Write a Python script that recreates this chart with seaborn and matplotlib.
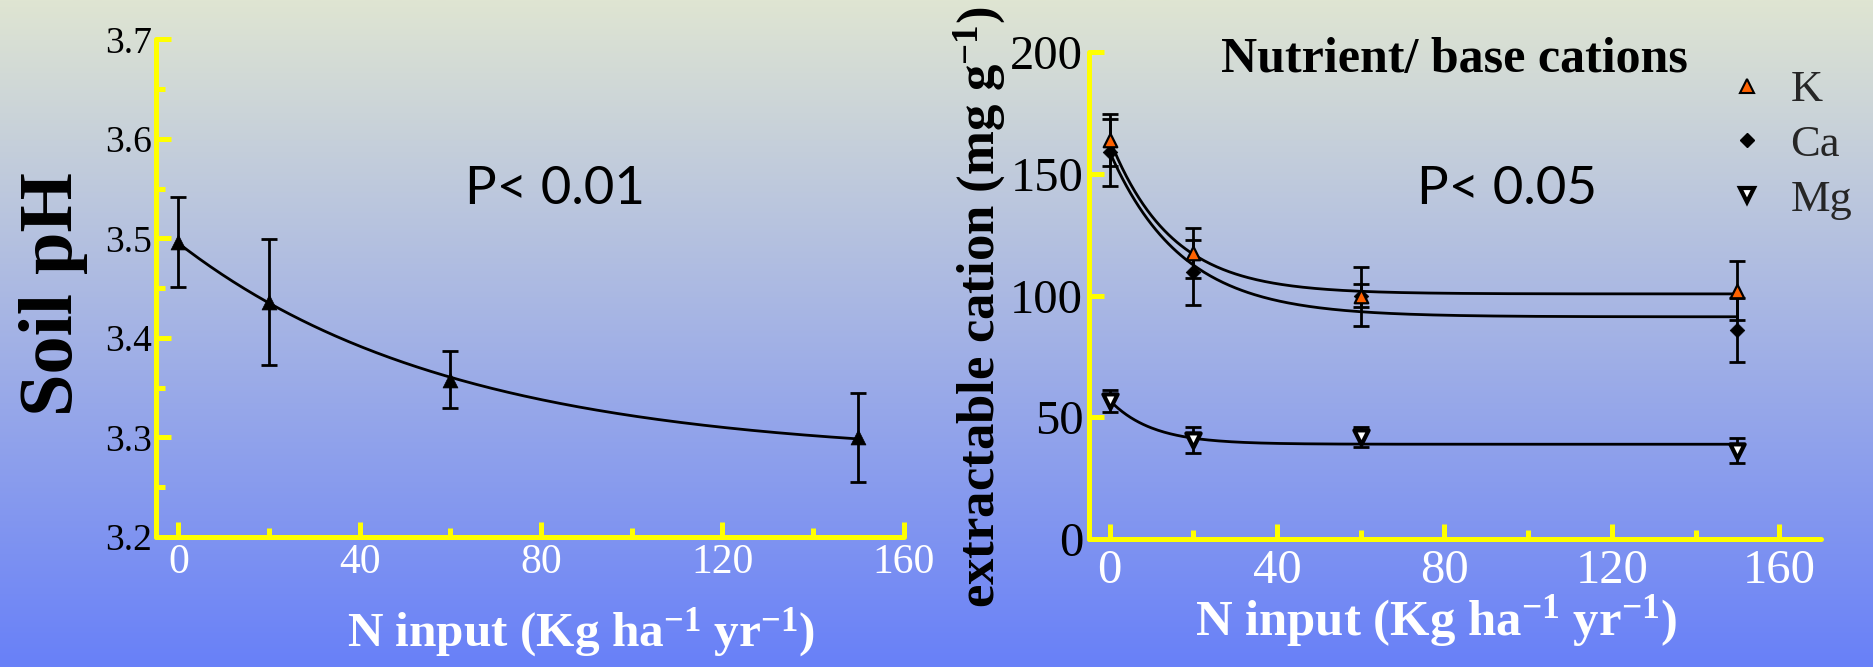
import numpy as np
import pandas as pd
import matplotlib
matplotlib.use("Agg")
import matplotlib.pyplot as plt
import seaborn as sns
from matplotlib.lines import Line2D
from matplotlib.ticker import MultipleLocator

# ---------------- data ----------------
n_input = [0, 20, 60, 150]

ph_mean = [3.496, 3.436, 3.358, 3.300]
ph_err = [0.045, 0.063, 0.029, 0.045]

k_mean = [164.0, 117.5, 99.7, 102.0]
k_err = [10.7, 10.2, 12.0, 12.2]
ca_mean = [158.8, 109.5, 100.0, 86.0]
ca_err = [13.8, 13.3, 4.8, 13.1]
mg_mean = [56.9, 40.8, 42.1, 36.3]
mg_err = [4.5, 5.2, 4.1, 5.1]

# exponential-decay fits  y = a + b * exp(-k x)  (parameters)
fit_ph = (3.28, 0.215, 0.0164)
fit_k = (100.7, 63.3, 0.068)
fit_ca = (91.3, 67.7, 0.058)
fit_mg = (39.0, 18.0, 0.099)

legend_labels = ["K", "Ca", "Mg"]
x_ticks = [0, 40, 80, 120, 160]
ph_ticks = [3.2, 3.3, 3.4, 3.5, 3.6, 3.7]
cat_ticks = [0, 50, 100, 150, 200]

# ---------------- style ----------------
sns.set_style("ticks")
plt.rcParams["font.family"] = ["Liberation Serif", "DejaVu Serif"]
plt.rcParams["mathtext.fontset"] = "custom"
plt.rcParams["mathtext.rm"] = "Liberation Serif:bold"
plt.rcParams["mathtext.it"] = "Liberation Serif:bold"
plt.rcParams["mathtext.bf"] = "Liberation Serif:bold"

YEL = "#ffff00"
ORANGE = "#ff6200"
W, H = 1873, 667

fig = plt.figure(figsize=(W / 100, H / 100), dpi=100)

# background gradient
bg = fig.add_axes([0, 0, 1, 1], zorder=-10)
top = np.array([223, 229, 210]) / 255
bot = np.array([104, 128, 248]) / 255
t = np.linspace(0, 1, 400)[:, None]
grad = (top[None, :] * (1 - t) + bot[None, :] * t)[:, None, :]
bg.imshow(grad, aspect="auto", extent=[0, 1, 0, 1])
bg.axis("off")


def style_axes(ax, ylab_size, xlab_size, ypad, xpad):
    ax.set_facecolor("none")
    for s in ["top", "right"]:
        ax.spines[s].set_visible(False)
    for s in ["left", "bottom"]:
        ax.spines[s].set_color(YEL)
        ax.spines[s].set_linewidth(3.6)
        ax.spines[s].set_capstyle("round")
    ax.tick_params(which="major", direction="in", color=YEL, width=3.6, length=11)
    ax.tick_params(which="minor", direction="in", color=YEL, width=3.6, length=6.5)
    ax.tick_params(axis="y", labelsize=ylab_size, labelcolor="black", pad=ypad)
    ax.tick_params(axis="x", labelsize=xlab_size, labelcolor="white", pad=xpad)
    ax.set_xlabel("")
    ax.set_ylabel("")


def fit_curve(p, x):
    a, b, k = p
    return a + b * np.exp(-k * x)


xx = np.linspace(0, 150, 300)

# ---------------- left panel ----------------
ax1 = fig.add_axes([0.0832, 0.1952, 0.3992, 0.7459])
sns.lineplot(x=xx, y=fit_curve(fit_ph, xx), ax=ax1, color="black", linewidth=2.0)
ax1.errorbar(n_input, ph_mean, yerr=ph_err, fmt="none", ecolor="black",
             elinewidth=2.0, capsize=6, capthick=2.0, zorder=3)
sns.scatterplot(x=n_input, y=ph_mean, ax=ax1, marker="^", s=115, color="black",
                edgecolor="black", linewidth=0.5, zorder=4)
ax1.set_xlim(-5, 160)
ax1.set_ylim(3.2, 3.7)
ax1.set_xticks(x_ticks)
ax1.xaxis.set_minor_locator(MultipleLocator(20))
ax1.set_yticks(ph_ticks)
ax1.set_yticklabels([f"{v:.1f}" for v in ph_ticks])
ax1.yaxis.set_minor_locator(MultipleLocator(0.05))
style_axes(ax1, 27, 30, 3, 5)

# ---------------- right panel ----------------
ax2 = fig.add_axes([0.5813, 0.1915, 0.391, 0.7306])
for p in (fit_k, fit_ca, fit_mg):
    sns.lineplot(x=xx, y=fit_curve(p, xx), ax=ax2, color="black", linewidth=2.0)
for m, e in ((k_mean, k_err), (ca_mean, ca_err), (mg_mean, mg_err)):
    ax2.errorbar(n_input, m, yerr=e, fmt="none", ecolor="black",
                 elinewidth=2.0, capsize=6, capthick=2.0, zorder=3)
sns.scatterplot(x=n_input, y=ca_mean, ax=ax2, marker="D", s=55, color="black",
                edgecolor="black", linewidth=0.5, zorder=4)
sns.scatterplot(x=n_input, y=k_mean, ax=ax2, marker="^", s=95, color=ORANGE,
                edgecolor="black", linewidth=1.6, zorder=5)
sns.scatterplot(x=n_input, y=mg_mean, ax=ax2, marker="v", s=105, color="white",
                edgecolor="black", linewidth=3.0, zorder=5)
ax2.set_xlim(-5, 170)
ax2.set_ylim(0, 200)
ax2.set_xticks(x_ticks)
ax2.xaxis.set_minor_locator(MultipleLocator(20))
ax2.set_yticks(cat_ticks)
style_axes(ax2, 35, 35, 4, 7)

handles = [
    Line2D([], [], linestyle="none", marker="^", markersize=10, markerfacecolor=ORANGE,
           markeredgecolor="black", markeredgewidth=1.5),
    Line2D([], [], linestyle="none", marker="D", markersize=7.5, markerfacecolor="black",
           markeredgecolor="black"),
    Line2D([], [], linestyle="none", marker="v", markersize=10, markerfacecolor="white",
           markeredgecolor="black", markeredgewidth=3),
]
ax2.legend(handles, legend_labels, frameon=False, fontsize=32, loc="upper left",
           bbox_to_anchor=(1726 / W, 1 - 70 / H), bbox_transform=fig.transFigure,
           borderpad=0, borderaxespad=0, handlelength=0.95, handletextpad=0.5,
           labelspacing=0.33)

# ---------------- texts ----------------
fig.text(53 / W, 1 - 294 / H, "Soil pH", rotation=90, ha="center", va="center",
         fontsize=55, fontweight="bold", color="black")
fig.text(980 / W, 1 - 307 / H, r"extractable cation (mg g$^{-1}$)", rotation=90,
         ha="center", va="center", fontsize=38, fontweight="bold", color="black")
fig.text(581 / W, 1 - 633 / H, r"N input (Kg ha$^{-1}$ yr$^{-1}$)", ha="center",
         va="center", fontsize=35.5, fontweight="bold", color="white")
fig.text(1436 / W, 1 - 621 / H, r"N input (Kg ha$^{-1}$ yr$^{-1}$)", ha="center",
         va="center", fontsize=36.5, fontweight="bold", color="white")
fig.text(1454 / W, 1 - 60 / H, "Nutrient/ base cations", ha="center", va="center",
         fontsize=36, fontweight="bold", color="black")
fig.text(555 / W, 1 - 189 / H, "P< 0.01", ha="center", va="center",
         fontsize=38, family=["Lato", "DejaVu Sans"], color="black")
fig.text(1507 / W, 1 - 189 / H, "P< 0.05", ha="center", va="center",
         fontsize=38, family=["Lato", "DejaVu Sans"], color="black")

fig.savefig("out.png", dpi=100)
